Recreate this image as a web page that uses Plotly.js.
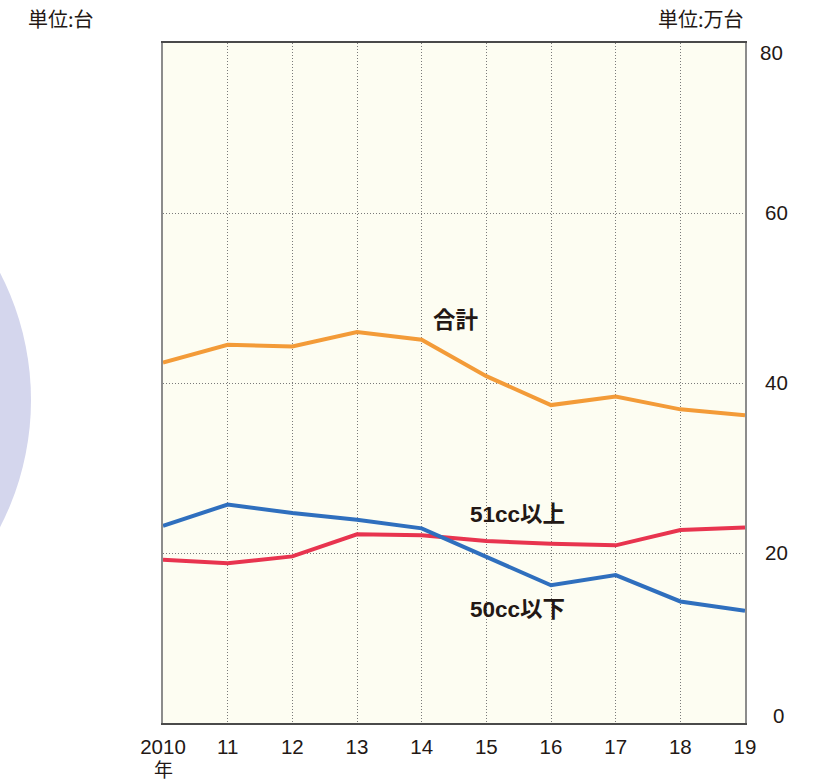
<!DOCTYPE html>
<html>
<head>
<meta charset="utf-8">
<script src="https://cdn.plot.ly/plotly-3.0.1.min.js"></script>
<style>
  html, body { margin: 0; padding: 0; background: #ffffff; }
  #chart { width: 818px; height: 782px; }
</style>
</head>
<body>
<div id="chart"></div>
<script>
// 二輪車の国内出荷台数の推移（万台）
const years = [2010, 2011, 2012, 2013, 2014, 2015, 2016, 2017, 2018, 2019];
const yearLabels = ['2010', '11', '12', '13', '14', '15', '16', '17', '18', '19'];
const yearUnit = '年';

const seriesNames = ['合計', '51cc以上', '50cc以下'];
const totalUnits = [42.4, 44.5, 44.3, 46.0, 45.1, 40.8, 37.4, 38.4, 36.9, 36.2];
const over51cc   = [19.2, 18.8, 19.6, 22.2, 22.1, 21.4, 21.1, 20.9, 22.7, 23.0];
const under50cc  = [23.2, 25.7, 24.7, 23.9, 22.9, 19.6, 16.2, 17.4, 14.3, 13.2];

const yMidTicks = [20, 40, 60];
const yTopTick = [80];
const yBottomTick = [0];

const leftUnit = '単位:台';
const rightUnit = '単位:万台';

const inkColor = '#231815';
const baseFont = 'Liberation Sans, Arial, Noto Sans CJK JP, sans-serif';
const colors = ['#f39b38', '#e8344f', '#2f6fbe'];
const seriesValues = [totalUnits, over51cc, under50cc];

const traces = seriesValues.map((vals, i) => ({
  type: 'scatter',
  mode: 'lines',
  x: years,
  y: vals,
  name: seriesNames[i],
  line: { color: colors[i], width: 4 },
  hoverinfo: 'x+y+name'
}));

// empty traces so the two extra label axes are drawn
traces.push({ type: 'scatter', x: [], y: [], yaxis: 'y2', showlegend: false, hoverinfo: 'skip' });
traces.push({ type: 'scatter', x: [], y: [], yaxis: 'y3', showlegend: false, hoverinfo: 'skip' });

// series name labels, placed next to each line
const labelSpots = [
  { x: 2014.15, y: 47.4 },
  { x: 2014.71, y: 24.5 },
  { x: 2014.71, y: 13.3 }
];

const annotations = seriesNames.map((name, i) => ({
  x: labelSpots[i].x, y: labelSpots[i].y,
  xref: 'x', yref: 'y',
  text: '<b>' + name + '</b>',
  showarrow: false,
  xanchor: 'left', yanchor: 'middle',
  font: { family: baseFont, size: 22.5, color: inkColor }
}));

annotations.push({
  x: -0.2355, y: 1.0353, xref: 'paper', yref: 'paper',
  text: leftUnit, showarrow: false, xanchor: 'left', yanchor: 'middle',
  font: { family: 'Noto Sans CJK JP, sans-serif', size: 20, color: inkColor }
});
annotations.push({
  x: 1.0017, y: 1.0353, xref: 'paper', yref: 'paper',
  text: rightUnit, showarrow: false, xanchor: 'right', yanchor: 'middle',
  font: { family: 'Noto Sans CJK JP, sans-serif', size: 20, color: inkColor }
});
// year unit under the first tick
annotations.push({
  x: years[0], y: -0.0676, xref: 'x', yref: 'paper',
  text: yearUnit, showarrow: false, xanchor: 'center', yanchor: 'middle',
  font: { family: 'Noto Sans CJK JP, sans-serif', size: 19, color: inkColor }
});

const tickFont = { family: baseFont, size: 20.5, color: inkColor };

const yCommon = {
  range: [0, 80],
  side: 'right',
  showgrid: false,
  zeroline: false,
  showline: false,
  ticks: '',
  tickfont: tickFont,
  fixedrange: true
};

const layout = {
  width: 818,
  height: 782,
  margin: { l: 163, r: 73, t: 43, b: 59 },
  paper_bgcolor: '#ffffff',
  plot_bgcolor: '#fdfdf2',
  showlegend: false,
  xaxis: {
    range: [2010, 2019],
    tickmode: 'array',
    tickvals: years,
    ticktext: yearLabels,
    tickfont: tickFont,
    ticks: '',
    ticklabelstandoff: 4,
    showgrid: true,
    gridcolor: '#7a7a7a',
    gridwidth: 1,
    griddash: '1px,2px',
    zeroline: false,
    showline: true,
    linecolor: '#4a4a4a',
    linewidth: 2,
    mirror: true,
    fixedrange: true
  },
  yaxis: Object.assign({}, yCommon, {
    tickmode: 'array',
    tickvals: yMidTicks,
    showgrid: true,
    gridcolor: '#7a7a7a',
    gridwidth: 1,
    griddash: '1px,2px',
    showline: true,
    linecolor: '#8c8c8c',
    linewidth: 2,
    mirror: true,
    ticklabelstandoff: 14
  }),
  yaxis2: Object.assign({}, yCommon, {
    overlaying: 'y',
    tickmode: 'array',
    tickvals: yTopTick,
    ticklabelshift: 10,
    ticklabelstandoff: 14
  }),
  yaxis3: Object.assign({}, yCommon, {
    overlaying: 'y',
    tickmode: 'array',
    tickvals: yBottomTick,
    ticklabelshift: -7,
    ticklabelstandoff: 27
  }),
  annotations: annotations,
  shapes: [{
    // decorative disc on the left margin
    type: 'circle',
    xref: 'paper', yref: 'paper',
    x0: -1.175, x1: -0.2268,
    y0: 0.069, y1: 0.881,
    fillcolor: '#d4d6ed',
    line: { width: 0 },
    layer: 'below'
  }]
};

Plotly.newPlot('chart', traces, layout, { displayModeBar: false, staticPlot: true });
</script>
</body>
</html>
